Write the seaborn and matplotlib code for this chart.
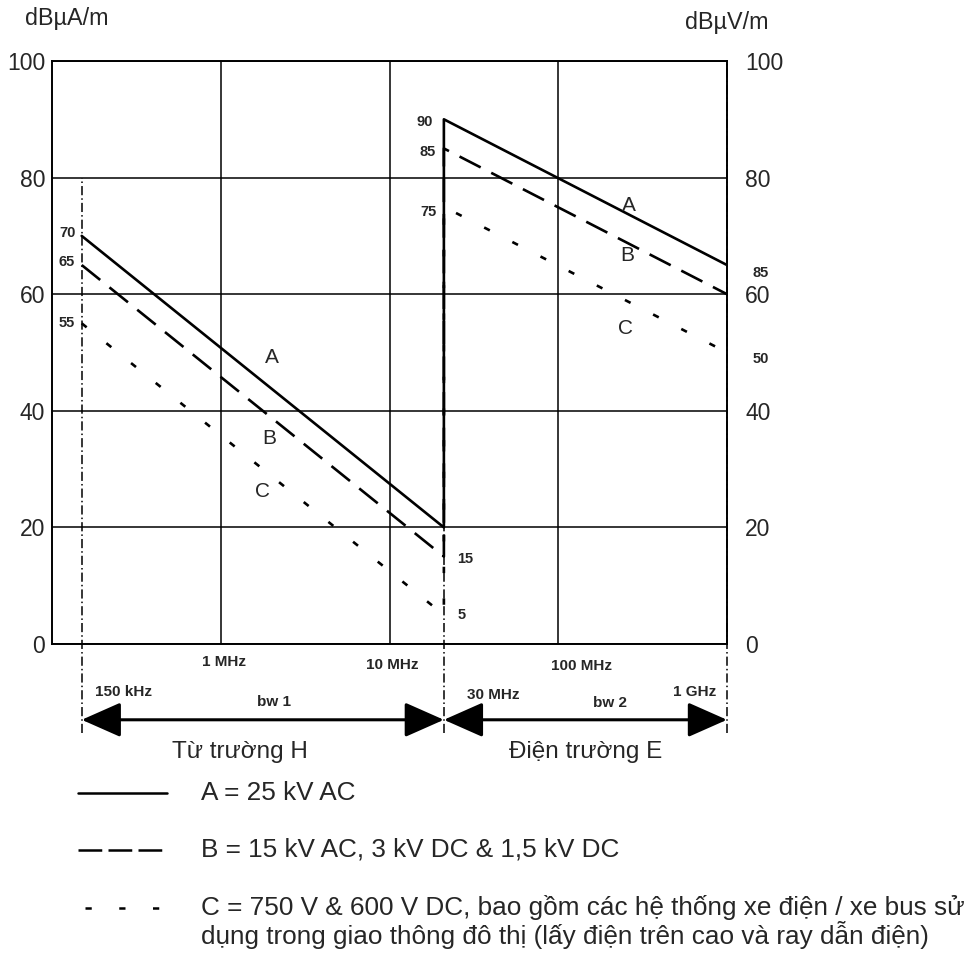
import matplotlib
matplotlib.use("Agg")
import matplotlib.pyplot as plt
from matplotlib.lines import Line2D
from matplotlib.ticker import NullLocator
import pandas as pd
import seaborn as sns

# Giới hạn phát xạ
freq_h = [0.15, 21]      # MHz, từ trường H (150 kHz -> 30 MHz)
freq_e = [21, 1000]      # MHz, điện trường E (30 MHz -> 1 GHz)
h_A = [70, 20]
h_B = [65, 15]
h_C = [55, 5]
e_A = [90, 65]
e_B = [85, 60]
e_C = [75, 50]
y_ticks = [0, 20, 40, 60, 80, 100]
x_grid = [1, 10, 100]

W, H = 972, 956


def fxy(px, py):
    return px / W, 1 - py / H


rows = []
for name, hv, ev in [("A", h_A, e_A), ("B", h_B, e_B), ("C", h_C, e_C)]:
    for i, (f, v) in enumerate(zip(freq_h + freq_e, hv + ev)):
        rows.append({"series": name, "freq": f, "level": v, "order": i})
df = pd.DataFrame(rows)

sns.set_style("white")
plt.rcParams["font.family"] = ["Liberation Sans", "DejaVu Sans"]

fig = plt.figure(figsize=(W / 100, H / 100), dpi=100)
ax = fig.add_axes([52 / W, 1 - 644 / H, (727 - 52) / W, (644 - 61) / H])

dash_map = {"A": "", "B": (9, 4.5), "C": (2.4, 9.6)}
sns.lineplot(data=df, x="freq", y="level", style="series", dashes=dash_map,
             color="black", sort=False, estimator=None, legend=False,
             lw=1.9, ax=ax)

ax.set_xscale("log")
ax.set_xlim(0.1, 1000)
ax.set_ylim(0, 100)
ax.set_xticks(x_grid)
ax.xaxis.set_minor_locator(NullLocator())
ax.set_xticklabels([])
ax.set_yticks(y_ticks)
ax.set_yticklabels([str(v) for v in y_ticks], fontsize=16.5)
ax.tick_params(axis="both", length=0)
ax.tick_params(axis="y", pad=5)
ax.grid(True, color="black", lw=1.1)
ax.set_xlabel("")
ax.set_ylabel("")
for sp in ax.spines.values():
    sp.set_color("black")
    sp.set_linewidth(1.4)

ax2 = ax.twinx()
ax2.set_ylim(0, 100)
ax2.set_yticks(y_ticks)
ax2.set_yticklabels([str(v) for v in y_ticks], fontsize=16.5)
ax2.tick_params(axis="y", length=0, pad=13)
ax2.grid(False)
for sp in ax2.spines.values():
    sp.set_visible(False)

# đường chấm gạch đánh dấu dải tần
xt = ax.get_xaxis_transform()
dashdot = (0, (6, 2, 1, 2))
ax.vlines(freq_h[0], -0.153, 0.8, transform=xt, colors="black", lw=1.1,
          linestyles=dashdot, clip_on=False)
ax.vlines(freq_h[1], -0.153, 0.2, transform=xt, colors="black", lw=1.1,
          linestyles=dashdot, clip_on=False)
ax.vlines(freq_e[1], -0.153, 1.0, transform=xt, colors="black", lw=1.1,
          linestyles=dashdot, clip_on=False)

# mũi tên băng thông
arrow = dict(arrowstyle="<|-|>,head_length=1.22,head_width=0.54",
             color="black", lw=2.2, shrinkA=0, shrinkB=0, mutation_scale=20)
ax.annotate("", xy=(freq_h[1], -0.130), xytext=(freq_h[0], -0.130),
            xycoords=xt, textcoords=xt, arrowprops=arrow, annotation_clip=False)
ax.annotate("", xy=(freq_e[1], -0.130), xytext=(freq_e[0], -0.130),
            xycoords=xt, textcoords=xt, arrowprops=arrow, annotation_clip=False)

# nhãn giá trị nhỏ
small = dict(fontsize=10.5, fontweight="bold", ha="center", va="center",
             textcoords="offset points", annotation_clip=False)
ax.annotate("70", xy=(freq_h[0], h_A[0]), xytext=(-10, 2), **small)
ax.annotate("65", xy=(freq_h[0], h_B[0]), xytext=(-11, 2), **small)
ax.annotate("55", xy=(freq_h[0], h_C[0]), xytext=(-10.5, 0.5), **small)
ax.annotate("90", xy=(freq_e[0], e_A[0]), xytext=(-14, -2), **small)
ax.annotate("85", xy=(freq_e[0], e_B[0]), xytext=(-12, -2.5), **small)
ax.annotate("75", xy=(freq_e[0], e_C[0]), xytext=(-11, -4), **small)
ax.annotate("15", xy=(freq_h[1], h_B[1]), xytext=(15, -2), **small)
ax.annotate("5", xy=(freq_h[1], h_C[1]), xytext=(13, 0), **small)
ax.annotate("85", xy=(freq_e[1], e_A[1]), xytext=(24.5, -6), **small)
ax.annotate("50", xy=(freq_e[1], e_C[1]), xytext=(24.5, -5), **small)

# tên đường cong
for txt, x, y in [("A", 2.0, 49.2), ("B", 1.95, 35.3), ("C", 1.77, 26.1),
                  ("A", 263, 75.3), ("B", 256, 66.6), ("C", 252, 54.2)]:
    ax.text(x, y, txt, fontsize=15, ha="center", va="center")

# đơn vị trục
fig.text(*fxy(67, 18), "dBµA/m", fontsize=16.8, ha="center", va="center")
fig.text(*fxy(727, 23), "dBµV/m", fontsize=16.8, ha="center", va="center")

# nhãn tần số dưới trục
lab = dict(fontsize=11, fontweight="bold", ha="center", va="center")
for txt, px, py in [("1 MHz", 224, 662), ("10 MHz", 392, 665),
                    ("100 MHz", 581, 666), ("150 kHz", 123, 692),
                    ("bw 1", 274, 702), ("30 MHz", 493, 695),
                    ("bw 2", 610, 703), ("1 GHz", 695, 692)]:
    fig.text(*fxy(px, py), txt, **lab)

fig.text(*fxy(240, 752), "Từ trường H", fontsize=17.5, ha="center", va="center")
fig.text(*fxy(586, 752), "Điện trường E", fontsize=17.5, ha="center", va="center")

# chú giải
legend_rows = [
    ("A = 25 kV AC", "-", 78, 167, 793),
    ("B = 15 kV AC, 3 kV DC & 1,5 kV DC", (0, (9.5, 2.5)), 78, 162, 850),
    ("C = 750 V & 600 V DC, bao gồm các hệ thống xe điện / xe bus sử",
     (0, (2.5, 11)), 85, 160, 908),
]
for txt, ls, xa, xb, py in legend_rows:
    x0, y0 = fxy(xa, py)
    x1, _ = fxy(xb, py)
    fig.add_artist(Line2D([x0, x1], [y0, y0], color="black", lw=1.8, linestyle=ls))
    fig.text(*fxy(201, py), txt, fontsize=18.8, ha="left", va="center")
fig.text(*fxy(201, 935), "dụng trong giao thông đô thị (lấy điện trên cao và ray dẫn điện)",
         fontsize=18.8, ha="left", va="center")

fig.savefig("out.png", dpi=100)
